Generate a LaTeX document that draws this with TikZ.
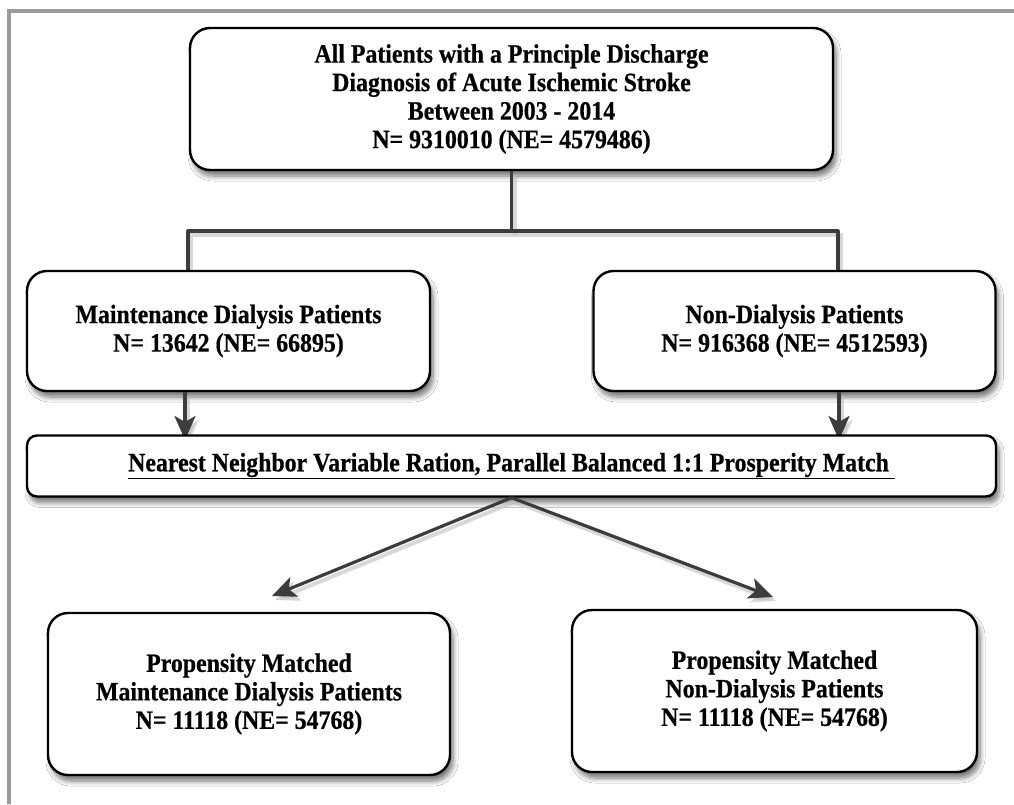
\documentclass[tikz,border=0pt]{standalone}
\usepackage{fontspec}
\setmainfont{Liberation Serif}
\newfontfamily\boxfont{Liberation Serif}[FakeStretch=0.9, BoldFeatures={FakeBold=0.6}]
\usetikzlibrary{arrows.meta,shadows,shadows.blur}
\definecolor{frame}{HTML}{9A9A9C}
\definecolor{conn}{HTML}{3C3C3C}
\tikzset{
  box/.style={draw=black, line width=2.4pt, fill=white, rounded corners=20pt,
    align=center, inner sep=0pt,
    font=\boxfont\bfseries\fontsize{26.5}{28.5}\selectfont,
    blur shadow={shadow xshift=3pt, shadow yshift=-6pt, shadow blur steps=8,
      shadow blur radius=5pt, shadow opacity=55}},
  conline/.style={draw=conn, line width=3.2pt,
    preaction={draw=black!25, line width=4pt, opacity=.6,
      transform canvas={shift={(3pt,-4pt)}}}},
  arr/.style={conline, -{Stealth[length=24pt,width=21pt,inset=6pt]}},
}
\begin{document}
\begin{tikzpicture}[x=1pt,y=-1pt]
\useasboundingbox[fill=white] (0,0) rectangle (1014,804);
% frame
\draw[frame, line width=4pt] (9,804) -- (9,10.5) -- (1014,10.5);

\coordinate (jl) at (188,231);
\coordinate (jr) at (838,231);
\coordinate (al) at (185,0);
\coordinate (ar) at (839,0);
\coordinate (tipL) at (272,596);
\coordinate (tipR) at (773,597);

\node[box, minimum width=643pt, minimum height=142pt] (top) at (511.5,99)
  {All Patients with a Principle Discharge\\Diagnosis of Acute Ischemic Stroke\\Between 2003 - 2014\\N= 9310010 (NE= 4579486)};
\coordinate (jc) at (top.south |- jl);
\draw[conline] (top.south) -- (jc);
\draw[conline, line join=round] (jl |- 0,270) -- (jl) -- (jr) -- (jr |- 0,270);

\node[box, minimum width=403pt, minimum height=120pt] (left) at (228.5,331)
  {Maintenance Dialysis Patients\\N= 13642 (NE= 66895)};
\node[box, minimum width=402pt, minimum height=120pt] (right) at (794.5,331)
  {Non-Dialysis Patients\\N= 916368 (NE= 4512593)};
\draw[arr] (al |- left.south) -- ([yshift=-4pt]al |- 0,436);
\draw[arr] (ar |- right.south) -- ([yshift=-4pt]ar |- 0,436);

\node[box, rounded corners=10pt, minimum width=969pt, minimum height=61pt] (match) at (511.5,466)
  {\underline{Nearest Neighbor Variable Ration, Parallel Balanced 1:1 Prosperity Match\ }};
\draw[arr] (match.south) -- (tipL);
\draw[arr] (match.south) -- (tipR);

\node[box, minimum width=402pt, minimum height=162pt] (bl) at (249,694)
  {Propensity Matched\\Maintenance Dialysis Patients\\N= 11118 (NE= 54768)};
\node[box, minimum width=405pt, minimum height=162pt] (br) at (774.5,691)
  {Propensity Matched\\Non-Dialysis Patients\\N= 11118 (NE= 54768)};
\end{tikzpicture}
\end{document}
